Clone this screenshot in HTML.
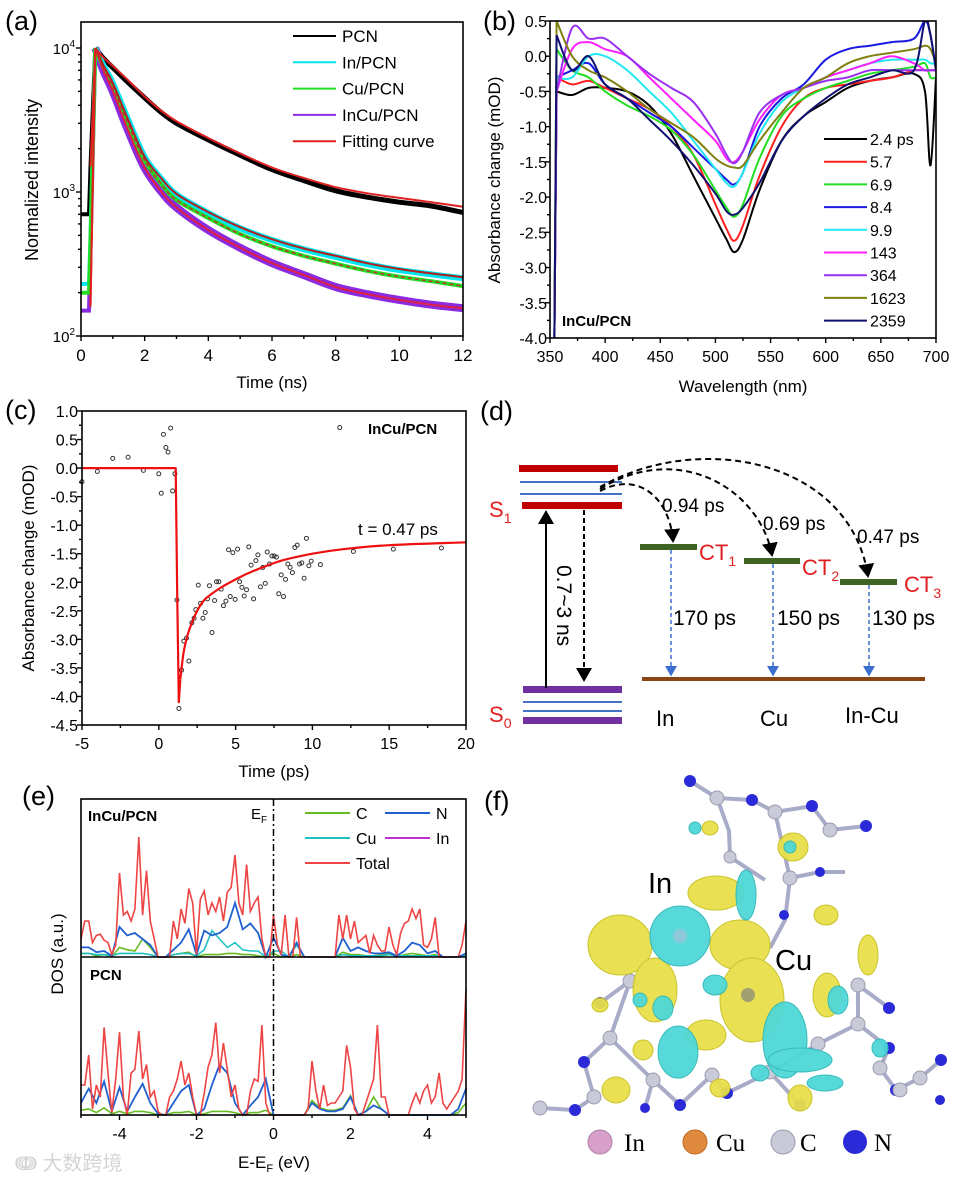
<!DOCTYPE html>
<html><head><meta charset="utf-8"><style>
html,body{margin:0;padding:0;background:#fff;}
svg{display:block;font-family:"Liberation Sans","Noto Sans CJK SC",sans-serif;}
</style></head><body>
<svg id="fig" width="963" height="1181" viewBox="0 0 963 1181" xmlns="http://www.w3.org/2000/svg">
<rect width="963" height="1181" fill="#fff"/>
<text x="5" y="30" font-size="27">(a)</text>
<text x="483" y="30" font-size="27">(b)</text>
<text x="5" y="419" font-size="27">(c)</text>
<text x="480" y="420" font-size="27">(d)</text>
<text x="22" y="805" font-size="27">(e)</text>
<text x="484" y="810" font-size="27">(f)</text>

<g id="pa"></g>
<g id="pb"></g>
<g id="pc"></g>
<g id="pe"></g>

<g id="pd">
  <defs>
    <marker id="ahk" markerWidth="8" markerHeight="8" refX="6" refY="4" orient="auto"><path d="M0,0 L7,4 L0,8 z" fill="#000"/></marker>
    <marker id="ahb" markerWidth="8" markerHeight="8" refX="6" refY="4" orient="auto"><path d="M0,0 L7,4 L0,8 z" fill="#3a6fd0"/></marker>
  </defs>
  <rect x="519" y="465" width="99" height="7" fill="#c00000"/>
  <line x1="520" y1="482" x2="622" y2="482" stroke="#4472c4" stroke-width="2"/>
  <line x1="520" y1="494" x2="622" y2="494" stroke="#4472c4" stroke-width="2"/>
  <rect x="522" y="502" width="100" height="7" fill="#c00000"/>
  <text x="489" y="517" font-size="22" fill="#e02020">S<tspan font-size="14" dy="6">1</tspan></text>
  <rect x="523" y="686" width="99" height="7" fill="#7030a0"/>
  <line x1="523" y1="702" x2="622" y2="702" stroke="#4472c4" stroke-width="2"/>
  <line x1="523" y1="711" x2="622" y2="711" stroke="#4472c4" stroke-width="2"/>
  <rect x="523" y="717" width="99" height="7" fill="#7030a0"/>
  <text x="489" y="722" font-size="22" fill="#e02020">S<tspan font-size="14" dy="6">0</tspan></text>
  <line x1="546" y1="688" x2="546" y2="512" stroke="#000" stroke-width="2" marker-end="url(#ahk)"/>
  <line x1="584" y1="510" x2="584" y2="680" stroke="#000" stroke-width="2" stroke-dasharray="5,3" marker-end="url(#ahk)"/>
  <text x="0" y="0" font-size="21" transform="translate(557,565) rotate(90)">0.7~3 ns</text>
  <rect x="640" y="544" width="57" height="6" fill="#3f6322"/>
  <rect x="744" y="558" width="56" height="6" fill="#3f6322"/>
  <rect x="840" y="579" width="57" height="6" fill="#3f6322"/>
  <text x="699" y="560" font-size="22" fill="#e02020">CT<tspan font-size="14" dy="6">1</tspan></text>
  <text x="802" y="575" font-size="22" fill="#e02020">CT<tspan font-size="14" dy="6">2</tspan></text>
  <text x="904" y="592" font-size="22" fill="#e02020">CT<tspan font-size="14" dy="6">3</tspan></text>
  <rect x="642" y="677" width="283" height="4" fill="#8b4513"/>
  <g stroke="#3a6fd0" stroke-width="1.5" stroke-dasharray="4,3" fill="none">
    <line x1="671" y1="550" x2="671" y2="675" marker-end="url(#ahb)"/>
    <line x1="773" y1="564" x2="773" y2="675" marker-end="url(#ahb)"/>
    <line x1="869" y1="585" x2="869" y2="675" marker-end="url(#ahb)"/>
  </g>
  <g stroke="#000" stroke-width="2" stroke-dasharray="6,4" fill="none">
    <path d="M600,491 C640,470 670,500 673,541" marker-end="url(#ahk)"/>
    <path d="M600,489 C680,440 760,490 772,555" marker-end="url(#ahk)"/>
    <path d="M600,487 C700,430 850,460 868,576" marker-end="url(#ahk)"/>
  </g>
  <text x="662" y="512" font-size="19">0.94 ps</text>
  <text x="763" y="530" font-size="19">0.69 ps</text>
  <text x="857" y="543" font-size="19">0.47 ps</text>
  <text x="673" y="625" font-size="21">170 ps</text>
  <text x="777" y="625" font-size="21">150 ps</text>
  <text x="872" y="625" font-size="21">130 ps</text>
  <text x="656" y="726" font-size="22">In</text>
  <text x="760" y="726" font-size="22">Cu</text>
  <text x="845" y="723" font-size="22">In-Cu</text>
</g>

<g id="pf">
  <g stroke="#a8acc8" stroke-width="4" fill="none">
    <polyline points="690,781 717,798 752,800 775,812 812,806 830,830 866,826"/>
    <polyline points="775,812 790,878 820,872 845,872"/>
    <polyline points="717,798 729,831 730,857 765,880"/>
    <polyline points="790,878 785,920 770,948"/>
    <polyline points="600,1003 630,981 610,1038 584,1062 594,1097 575,1110"/>
    <polyline points="610,1038 653,1080 680,1105 712,1075 727,1093 770,1072 800,1105"/>
    <polyline points="770,1072 818,1044 858,1024 889,1048 880,1068 896,1090 920,1078 941,1060"/>
    <polyline points="858,1024 858,985 889,1008"/>
    <polyline points="540,1108 575,1110"/>
    <polyline points="653,1080 645,1108"/>
  </g>
  <g fill="#2a2ad8">
    <circle cx="690" cy="781" r="6"/><circle cx="752" cy="800" r="6"/><circle cx="812" cy="806" r="6"/><circle cx="866" cy="826" r="6"/>
    <circle cx="820" cy="872" r="5"/><circle cx="784" cy="915" r="5"/><circle cx="600" cy="1003" r="6"/><circle cx="584" cy="1062" r="6"/>
    <circle cx="575" cy="1110" r="6"/><circle cx="680" cy="1105" r="6"/><circle cx="727" cy="1093" r="6"/><circle cx="800" cy="1105" r="6"/>
    <circle cx="889" cy="1008" r="6"/><circle cx="889" cy="1048" r="6"/><circle cx="896" cy="1090" r="6"/><circle cx="941" cy="1060" r="6"/>
    <circle cx="645" cy="1108" r="5"/><circle cx="940" cy="1100" r="5"/>
  </g>
  <g fill="#c8cad8" stroke="#9a9cb0" stroke-width="1">
    <circle cx="717" cy="798" r="7"/><circle cx="775" cy="812" r="7"/><circle cx="830" cy="830" r="7"/><circle cx="790" cy="878" r="7"/>
    <circle cx="730" cy="857" r="6"/><circle cx="630" cy="981" r="7"/><circle cx="610" cy="1038" r="7"/>
    <circle cx="653" cy="1080" r="7"/><circle cx="712" cy="1075" r="7"/><circle cx="770" cy="1072" r="7"/><circle cx="818" cy="1044" r="7"/>
    <circle cx="858" cy="1024" r="7"/><circle cx="858" cy="985" r="7"/><circle cx="880" cy="1068" r="7"/><circle cx="900" cy="1090" r="7"/>
    <circle cx="594" cy="1097" r="7"/><circle cx="540" cy="1108" r="7"/><circle cx="920" cy="1078" r="7"/>
  </g>
  <g fill="#e8e04a" stroke="#c7c020" stroke-width="1" opacity="0.95">
    <ellipse cx="620" cy="945" rx="32" ry="30"/>
    <ellipse cx="655" cy="990" rx="22" ry="32"/>
    <ellipse cx="716" cy="893" rx="28" ry="17"/>
    <ellipse cx="740" cy="945" rx="30" ry="25"/>
    <ellipse cx="752" cy="1000" rx="32" ry="42"/>
    <ellipse cx="706" cy="1035" rx="20" ry="15"/>
    <ellipse cx="793" cy="847" rx="15" ry="14"/>
    <ellipse cx="826" cy="915" rx="12" ry="10"/>
    <ellipse cx="827" cy="995" rx="14" ry="22"/>
    <ellipse cx="868" cy="955" rx="10" ry="20"/>
    <ellipse cx="616" cy="1090" rx="14" ry="13"/>
    <ellipse cx="720" cy="1088" rx="10" ry="9"/>
    <ellipse cx="800" cy="1098" rx="12" ry="13"/>
    <ellipse cx="600" cy="1005" rx="8" ry="7"/>
    <ellipse cx="643" cy="1050" rx="10" ry="10"/>
    <ellipse cx="710" cy="828" rx="8" ry="7"/>
  </g>
  <g fill="#4fd8d8" stroke="#30b8b8" stroke-width="1" opacity="0.95">
    <circle cx="680" cy="936" r="30"/>
    <ellipse cx="785" cy="1040" rx="22" ry="38"/>
    <ellipse cx="678" cy="1052" rx="20" ry="26"/>
    <ellipse cx="800" cy="1060" rx="32" ry="12"/>
    <ellipse cx="746" cy="895" rx="10" ry="25"/>
    <ellipse cx="715" cy="985" rx="12" ry="10"/>
    <ellipse cx="663" cy="1008" rx="10" ry="12"/>
    <ellipse cx="640" cy="1000" rx="7" ry="7"/>
    <ellipse cx="760" cy="1073" rx="9" ry="8"/>
    <ellipse cx="825" cy="1083" rx="18" ry="8"/>
    <ellipse cx="838" cy="1000" rx="10" ry="14"/>
    <ellipse cx="880" cy="1048" rx="8" ry="9"/>
    <ellipse cx="790" cy="847" rx="6" ry="6"/>
    <ellipse cx="695" cy="828" rx="6" ry="6"/>
  </g>
  <circle cx="680" cy="936" r="7" fill="#8fc8d8"/>
  <circle cx="748" cy="995" r="7" fill="#a0a070"/>
  <text x="648" y="893" font-size="29">In</text>
  <text x="775" y="970" font-size="29">Cu</text>
  <g font-family="Liberation Serif, serif" font-size="25">
    <circle cx="600" cy="1142" r="12" fill="#d8a0c8" stroke="#b080a8"/><text x="624" y="1151">In</text>
    <circle cx="695" cy="1142" r="12" fill="#e08a40" stroke="#c06a20"/><text x="716" y="1151">Cu</text>
    <circle cx="783" cy="1142" r="12" fill="#c8cad8" stroke="#9a9cb0"/><text x="800" y="1151">C</text>
    <circle cx="855" cy="1142" r="12" fill="#2a2ad8"/><text x="874" y="1151">N</text>
  </g>
</g>

<text x="15" y="1170" font-size="20" fill="#d4d4d4">ↈ 大数跨境</text>
</svg>
<script>
// ---------- panel (a) data ----------
const tA = [0,0.25,0.3,0.45,0.7,1,1.5,2,2.5,3,4,5,6,7,8,9,10,11,12];
const pcnData = [700,700,1500,10000,8500,7300,5700,4500,3600,3000,2300,1800,1430,1200,1020,920,850,800,720];
const pcnFit = [700,700,1500,10000,8600,7500,5900,4600,3700,3100,2370,1850,1480,1250,1080,980,910,850,790];
const inData = [230,230,500,10000,7600,5700,3100,1750,1250,960,715,560,464,400,354,315,287,268,252];
const cuData = [200,200,450,10000,7300,5400,2900,1650,1150,880,660,510,420,360,318,283,258,240,222];
const incuData = [150,150,400,10000,7000,5000,2600,1470,1020,780,545,410,321,265,219,195,178,165,156];
const inFit = [150,150,160,10000,7600,5700,3100,1750,1260,970,725,570,470,405,360,320,292,272,256];
const incuFit = [150,150,160,10000,7000,5000,2600,1470,1020,780,545,410,321,265,219,195,178,165,156];
const aXTicks = [0,2,4,6,8,10,12];
const aYTicks = [2,3,4];
const aLegend = ["PCN","In/PCN","Cu/PCN","InCu/PCN","Fitting curve"];

// ---------- panel (b) data ----------
const wl = [354,356,370,385,400,420,440,460,480,500,510,517,525,540,560,580,600,620,640,660,680,690,695,700];
const sB1 = [-4,-0.5,-0.55,-0.45,-0.45,-0.5,-0.7,-1.1,-1.7,-2.3,-2.6,-2.78,-2.6,-1.9,-1.2,-0.85,-0.65,-0.45,-0.35,-0.3,-0.25,-0.5,-1.55,-0.3];
const sB2 = [-4,-0.3,-0.4,-0.35,-0.45,-0.6,-0.75,-1.0,-1.4,-2.1,-2.45,-2.62,-2.4,-1.7,-1.0,-0.6,-0.45,-0.4,-0.35,-0.3,-0.2,-0.2,-0.2,-0.2];
const sB3 = [-4,0.1,-0.2,-0.3,-0.5,-0.7,-0.85,-1.05,-1.4,-1.9,-2.15,-2.28,-2.1,-1.45,-0.85,-0.6,-0.45,-0.35,-0.25,-0.2,-0.15,-0.1,-0.3,-0.3];
const sB4 = [-4,-0.3,-0.2,-0.1,-0.4,-0.6,-0.8,-1.0,-1.3,-1.6,-1.75,-1.82,-1.65,-1.0,-0.6,-0.4,-0.05,0.1,0.15,0.2,0.25,0.5,0.3,-0.2];
const sB5 = [-4,-0.3,-0.3,0.0,0.0,-0.2,-0.5,-0.8,-1.2,-1.6,-1.8,-1.85,-1.65,-1.1,-0.65,-0.45,-0.3,-0.2,-0.1,-0.05,-0.05,-0.05,-0.1,-0.1];
const sB6 = [-4,-0.5,0.1,0.2,0.1,0.0,-0.3,-0.6,-0.9,-1.2,-1.45,-1.5,-1.35,-0.9,-0.55,-0.45,-0.3,-0.2,-0.1,0.0,-0.1,-0.2,-0.2,-0.2];
const sB7 = [-4,-0.5,0.4,0.25,0.25,0.0,-0.25,-0.45,-0.65,-1.1,-1.4,-1.52,-1.35,-0.8,-0.55,-0.45,-0.35,-0.3,-0.2,-0.2,-0.2,-0.2,-0.2,-0.2];
const sB8 = [-4,0.5,0.0,-0.2,-0.3,-0.5,-0.75,-0.95,-1.15,-1.45,-1.55,-1.58,-1.55,-1.2,-0.8,-0.45,-0.3,-0.1,0.0,0.05,0.1,0.15,0.1,-0.1];
const sB9 = [-4,0.3,-0.2,0.0,-0.4,-0.6,-0.9,-1.2,-1.55,-1.95,-2.2,-2.25,-2.15,-1.8,-1.2,-0.85,-0.6,-0.4,-0.3,-0.2,-0.2,0.5,0.3,-0.2];
const bLabels = ["2.4 ps","5.7","6.9","8.4","9.9","143","364","1623","2359"];
const bXTicks = [350,400,450,500,550,600,650,700];
const bYTicks = [0.5,0,-0.5,-1,-1.5,-2,-2.5,-3,-3.5,-4];

// ---------- panel (c) data ----------
const cFitT = [-5,1.1,1.2,1.3,1.4,1.6,1.8,2,2.5,3,4,5,6,8,10,12,15,20];
const cFitV = [0,0,-2.2,-4.1,-3.7,-3.25,-3.0,-2.82,-2.5,-2.3,-2.1,-1.95,-1.82,-1.62,-1.5,-1.42,-1.35,-1.3];
const cPtT = [-5,-4,-3,-2,-1,0,0.16,0.3,0.46,0.6,0.77,0.9,1.05,1.18,1.31,1.48,1.63,1.8,1.96,2.15,2.3,2.41,2.57,2.72,2.87,3.02,3.17,3.3,3.46,3.63,3.76,3.91,4.06,4.21,4.37,4.54,4.65,4.82,4.97,5.13,5.26,5.41,5.56,5.71,5.86,6.01,6.17,6.32,6.45,6.62,6.77,6.93,7.06,7.21,7.36,7.51,7.66,7.81,7.97,8.12,8.25,8.4,8.55,8.7,8.86,9.01,9.16,9.31,9.46,9.61,9.77,9.92,10.52,11.78,12.67,15.27,18.4];
const cPtV = [-0.24,-0.06,0.17,0.19,-0.04,-0.1,-0.44,0.59,0.36,0.28,0.7,-0.4,-0.1,-2.31,-4.21,-3.54,-3.03,-2.98,-3.38,-2.71,-2.63,-2.48,-2.05,-2.37,-2.63,-2.53,-2.29,-2.06,-2.88,-2.32,-1.99,-1.99,-2.12,-2.41,-2.33,-1.43,-2.25,-1.48,-2.3,-1.42,-1.99,-2.09,-2.24,-2.13,-1.38,-1.7,-2.29,-1.62,-1.52,-2.08,-1.74,-2.02,-1.47,-1.68,-1.54,-1.54,-1.56,-2.2,-1.87,-2.25,-1.95,-1.68,-1.74,-1.83,-1.39,-1.35,-1.68,-1.66,-1.93,-1.23,-1.71,-1.63,-1.69,0.71,-1.46,-1.42,-1.4];
const cXTicks = [-5,0,5,10,15,20];
const cYTicks = [1,0.5,0,-0.5,-1,-1.5,-2,-2.5,-3,-3.5,-4,-4.5];

// ---------- panel (e) data ----------
const eTot1 = [1.5,3.0,3.0,1.2,1.8,1.9,1.4,1.2,0.2,1.0,7.0,3.5,3.8,3.0,4.0,10.0,3.5,7.2,3.0,1.5,0,0,0,0,3.0,1.5,4.0,2.8,5.7,4.5,0.2,4.8,5.5,3.5,4.5,3.8,5.0,3.0,5.4,5.8,8.5,4.5,3.5,7.7,3.8,4.5,5.0,1.5,0,0,3.5,1.0,0.2,3.5,0,0,3.3,0,0,0,0,0,0,0,0,0,0,3.5,1.5,3.5,1.5,3.0,1.2,1.5,1.8,0.3,1.8,1.0,0.5,0.5,2.5,1.0,0.2,2.0,2.8,3.0,4.0,3.2,4.0,1.0,0.8,1.5,3.3,0,0,0,0,0,0,1.0,3.0];
const eN1 = [0.8,0.8,0.4,0.5,0.1,2.5,1.8,2.0,1.5,1.0,0,0,0.6,1.2,2.3,0.2,2.2,1.8,2.0,2.5,4.5,2.3,2.8,2.0,0,1.6,0.2,0,1.2,0,0,0,0,0,1.6,0.5,0.8,0.5,0.3,0.3,0.4,0.1,0.5,1.2,1.0,0.3,0.5,0,0,0,0.3];
const eCu1 = [0.3,0.3,0.2,0.2,0.1,0.3,0.3,0.3,0.3,0.2,0,0,0.2,0.3,0.3,0.1,0.6,2.2,1.5,0.8,1.2,0.6,0.5,0.5,0,0.5,0.5,0,1.0,0,0,0,0,0,0.2,0.1,0.1,0.1,0.1,0.1,0.2,0.1,0.1,0.1,0.1,0.1,0.1,0,0,0,0.1];
const eC1 = [0.3,0.3,0.1,0.2,0,0.8,0.6,0.5,1.5,0.8,0,0,0.2,0.3,0.4,0,0.2,0.2,0.2,0.3,0.3,0.2,0.2,0.1,0,0.3,0,0,0.2,0,0,0,0,0,0.4,0.2,0.2,0.1,0.1,0.2,0.3,0,0.2,0.3,0.2,0.1,0.2,0,0,0,0.1];
const eTot2 = [2.5,2.5,5.0,0.5,2.5,1.5,7.3,3.5,0.2,3.0,6.9,1.5,0,3.5,3.8,7.0,3.0,4.2,1.5,2.0,0.3,0,0,1.5,2.0,3.0,4.5,2.5,3.5,1.5,0,0,1.8,4.0,5.0,7.7,3.5,6.0,3.8,1.5,2.5,0.5,0,0,2.0,3.0,2.8,7.5,1.0,0,0,0,0,0,0,0,0,0,0,0.5,4.5,2.0,0.5,2.5,0.8,1.0,1.0,1.5,2.0,5.8,4.0,0.5,0,0,1.0,2.0,3.0,7.5,1.5,1.5,0,0,0,0,0,0,1.0,1.8,1.0,2.0,2.5,1.0,1.5,3.5,1.0,0.5,1.0,1.5,2.0,3.0,10.5];
const eN2 = [1.0,2.2,1.0,2.8,0.3,2.3,0.3,1.5,2.6,1.0,0.1,0,1.0,2.0,2.5,0,0.5,2.5,4.2,3.5,1.0,0,0.8,1.5,3.0,0,0,0,0,0,1.0,0.5,0.3,0.3,0.5,1.5,0,0.3,0.8,0.5,0,0,0,0,0,0,0,0,0,0.5,2.2];
const eC2 = [0.4,0.5,0.2,0.6,0.1,0.3,0.1,0.3,0.3,0.2,0,0,0.2,0.2,0.3,0,0.1,0.3,0.3,0.3,0.2,0,0.2,0.2,0.4,0,0,0,0,0,1.2,0.6,0.4,0.4,0.6,1.6,0,0.3,1.5,0.5,0,0,0,0,0,0,0,0,0,0.2,1.0];
const eXTicks = [-4,-2,0,2,4];

const NS = "http://www.w3.org/2000/svg";
function el(tag, parent){ const e=document.createElementNS(NS,tag); parent.appendChild(e); return e; }
function setA(e,o){ for(const k in o) e.setAttribute(k,o[k]); return e; }
function ptsStr(xs,ys,fx,fy){ return xs.map((x,i)=>fx(x).toFixed(1)+","+fy(ys[i]).toFixed(1)).join(" "); }
function smooth(xs,ys,fx,fy){
  const P=xs.map((x,i)=>[fx(x),fy(ys[i])]);
  let d="M"+P[0][0].toFixed(1)+","+P[0][1].toFixed(1);
  for(let i=0; i < P.length-1; i++){
    const p0=P[i-1]||P[i], p1=P[i], p2=P[i+1], p3=P[i+2]||P[i+1];
    const c1=[p1[0]+(p2[0]-p0[0])/6, p1[1]+(p2[1]-p0[1])/6];
    const c2=[p2[0]-(p3[0]-p1[0])/6, p2[1]-(p3[1]-p1[1])/6];
    d+=" C"+c1[0].toFixed(1)+","+c1[1].toFixed(1)+" "+c2[0].toFixed(1)+","+c2[1].toFixed(1)+" "+p2[0].toFixed(1)+","+p2[1].toFixed(1);
  }
  return d;
}
function txt(parent,x,y,s,size,anchor,extra){ const t=el("text",parent); setA(t,{x:x,y:y,"font-size":size,"text-anchor":anchor||"start"}); if(extra) setA(t,extra); t.textContent=s; return t; }
function frame(g,x0,y0,x1,y1){ const r=el("rect",g); setA(r,{x:x0,y:y0,width:x1-x0,height:y1-y0,fill:"none",stroke:"#000","stroke-width":1.6});
  
   }
function tick(g,x1,y1,x2,y2){ const l=el("line",g); setA(l,{x1:x1,y1:y1,x2:x2,y2:y2,stroke:"#000","stroke-width":1.4}); }

// ===== Panel A =====
(function(){
  const g=document.getElementById("pa");
  const X0=81,X1=463,Y0=22,Y1=336;
  const fx=t=>X0+t*(X1-X0)/12;
  const fy=v=>Y1-(Math.log10(v)-2)*144;
  const series=[[pcnData,"#000",5,"pcn-data"],[incuData,"#8a2be2",8,"incu-pcn-data"],[inData,"#00e5ee",6,"in-pcn-data"],[cuData,"#22dd22",4,"cu-pcn-data"]];
  series.forEach(s=>{ const p=el("path",g); setA(p,{d:smooth(tA.slice(3),s[0].slice(3),fx,fy),fill:"none",stroke:s[1],"stroke-width":s[2],"stroke-linejoin":"round"});
    
    
    const q=el("polyline",g); setA(q,{points:ptsStr(tA.slice(0,4),s[0].slice(0,4),fx,fy),fill:"none",stroke:s[1],"stroke-width":Math.min(s[2],4)});
    
     });
  const fits=[[pcnFit,"#e02020","pcn-fit"],[inFit,"#b02020","in-pcn-fit"],[incuFit,"#e02040","incu-pcn-fit"]];
  fits.forEach(s=>{ const p=el("path",g); setA(p,{d:smooth(tA.slice(3),s[0].slice(3),fx,fy),fill:"none",stroke:s[1],"stroke-width":2});
    
    
    const q=el("polyline",g); setA(q,{points:ptsStr(tA.slice(2,4),s[0].slice(2,4),fx,fy),fill:"none",stroke:"#e02020","stroke-width":2});
    
     });
  const cf=el("path",g); setA(cf,{d:smooth(tA.slice(3),cuData.slice(3),fx,fy),fill:"none",stroke:"#c03030","stroke-width":1.5,"stroke-dasharray":"4,3"});
  
  
  frame(g,X0,Y0,X1,Y1);
  for(let t=0; t <= 12; t++){ tick(g,fx(t),Y1,fx(t),Y1+(t%2?3:5)); }
  aXTicks.forEach(t=>{ const e=txt(g,fx(t),361,String(t),17,"middle");   });
  aYTicks.forEach(v=>{ const y=Y1-(v-2)*144; tick(g,X0-5,y,X0,y);
    const e=txt(g,X0-6,y+6,"",15,"end"); e.appendChild(document.createTextNode("10")); const s2=el("tspan",e); setA(s2,{"font-size":10,dy:-7}); s2.textContent=String(v);
      });
  for(let d=2; d < 4; d++) for(let m=2; m < 10; m++){ const y=Y1-(d-2+Math.log10(m))*144; tick(g,X0-3,y,X0,y); }
  const xt=txt(g,272,388,"Time (ns)",17,"middle");  
  const yt=txt(g,0,0,"Normalized intensity",18,"middle",{transform:"translate(38,180) rotate(-90)"});  
  const lc=["#000","#00e5ee","#22dd22","#8a2be2","#e02020"];
  aLegend.forEach((s,i)=>{ const y=36+i*26.3; const l=el("line",g); setA(l,{x1:293,y1:y,x2:336,y2:y,stroke:lc[i],"stroke-width":2});
     
    const e=txt(g,342,y+6,s,17,"start");   });
})();

// ===== Panel B =====
(function(){
  const g=document.getElementById("pb");
  const X0=550,X1=936,Y0=21,Y1=338;
  const fx=w=>X0+(w-350)*(X1-X0)/350;
  const fy=v=>Y0+(0.5-v)*(Y1-Y0)/4.5;
  const cols=["#000","#ff2020","#22dd22","#1a1ae0","#22e8f0","#ff20ff","#9a30f0","#808010","#101070"];
  const ser=[sB1,sB2,sB3,sB4,sB5,sB6,sB7,sB8,sB9];
  const cp=el("clipPath",g); cp.setAttribute("id","clipb"); const cr=el("rect",cp); setA(cr,{x:X0,y:Y0,width:X1-X0,height:Y1-Y0});
  ser.forEach((s,i)=>{
    const q=el("polyline",g); setA(q,{points:ptsStr(wl.slice(0,2),s.slice(0,2),fx,fy),fill:"none",stroke:cols[i],"stroke-width":2,"clip-path":"url(#clipb)"});
     
    const p=el("path",g); setA(p,{d:smooth(wl.slice(1),s.slice(1),fx,fy),fill:"none",stroke:cols[i],"stroke-width":2,"clip-path":"url(#clipb)","stroke-linejoin":"round"});
      });
  frame(g,X0,Y0,X1,Y1);
  for(let w=350; w <= 700; w+=25){ tick(g,fx(w),Y1,fx(w),Y1+((w%50)?3:5)); }
  bXTicks.forEach(w=>{ const e=txt(g,fx(w),362,String(w),16,"middle");   });
  for(let v=0.5; v >= -4.01; v-=0.25){ tick(g,X0-((Math.abs(v*2-Math.round(v*2)) < 0.01)?5:3),fy(v),X0,fy(v)); }
  bYTicks.forEach(v=>{ const e=txt(g,X0-3,fy(v)+6,v.toFixed(1),16,"end");   });
  const xt=txt(g,743,392,"Wavelength (nm)",17,"middle");  
  const yt=txt(g,0,0,"Absorbance change (mOD)",17,"middle",{transform:"translate(500,180) rotate(-90)"});  
  const st=txt(g,562,326,"InCu/PCN",15,"start",{"font-weight":"bold"});  
  bLabels.forEach((s,i)=>{ const y=139+i*22.7; const l=el("line",g); setA(l,{x1:824,y1:y,x2:867,y2:y,stroke:cols[i],"stroke-width":2});
     
    const e=txt(g,870,y+6,s,16,"start");   });
})();

// ===== Panel C =====
(function(){
  const g=document.getElementById("pc");
  const X0=82,X1=466,Y0=411,Y1=725;
  const fx=t=>X0+(t+5)*(X1-X0)/25;
  const fy=v=>Y0+(1-v)*(Y1-Y0)/5.5;
  cPtT.forEach((t,i)=>{ const c=el("circle",g); setA(c,{cx:fx(t),cy:fy(cPtV[i]),r:2,fill:"none",stroke:"#333","stroke-width":1});
      });
  const p=el("polyline",g); setA(p,{points:ptsStr(cFitT.slice(0,5),cFitV.slice(0,5),fx,fy),fill:"none",stroke:"#ee1010","stroke-width":2.2,"stroke-linejoin":"round"});
   
  const p2=el("path",g); setA(p2,{d:smooth(cFitT.slice(4),cFitV.slice(4),fx,fy),fill:"none",stroke:"#ee1010","stroke-width":2.2});
   
  frame(g,X0,Y0,X1,Y1);
  for(let t=-5; t <= 20; t+=2.5){ tick(g,fx(t),Y1,fx(t),Y1+((t%5)?3:5)); }
  cXTicks.forEach(t=>{ const e=txt(g,fx(t),749,String(t),16,"middle");   });
  for(let v=1; v >= -4.51; v-=0.25){ tick(g,X0-((Math.abs(v*2-Math.round(v*2)) < 0.01)?5:3),fy(v),X0,fy(v)); }
  cYTicks.forEach(v=>{ const e=txt(g,X0-4,fy(v)+6,v.toFixed(1),16,"end");   });
  const xt=txt(g,274,777,"Time (ps)",17,"middle");  
  const yt=txt(g,0,0,"Absorbance change (mOD)",17,"middle",{transform:"translate(34,568) rotate(-90)"});  
  const st=txt(g,368,434,"InCu/PCN",15,"start",{"font-weight":"bold"});  
  const an=txt(g,358,535,"t = 0.47 ps",17,"start");  
})();

// ===== Panel E =====
(function(){
  const g=document.getElementById("pe");
  const X0=81,X1=466,Y0=799,YM=957,Y1=1115,S=12;
  const fx=e=>X0+(e+5)*(X1-X0)/10;
  const grid1=eTot1.map((_,i)=>-5+i*0.1);
  const grid2=eN1.map((_,i)=>-5+i*0.2);
  function line(xs,ys,base,col,w,name){ const p=el("polyline",g); setA(p,{points:ptsStr(xs,ys,fx,v=>base-v*S),fill:"none",stroke:col,"stroke-width":w});
      }
  line(grid2,eC1,YM,"#66bb22",1.6,"upper-c-dos");
  line(grid2,eCu1,YM,"#20c0c0",1.6,"upper-cu-dos");
  line(grid2,eN1,YM,"#2060d0",1.8,"upper-n-dos");
  line(grid1,eTot1,YM,"#ee4444",1.6,"upper-total-dos");
  line(grid2,eC2,Y1,"#66bb22",1.6,"lower-c-dos");
  line(grid2,eN2,Y1,"#2060d0",1.8,"lower-n-dos");
  line(grid1,eTot2,Y1,"#ee4444",1.6,"lower-total-dos");
  const mid=el("line",g); setA(mid,{x1:X0,y1:YM,x2:X1,y2:YM,stroke:"#000","stroke-width":1.4});
   
  const ef=el("line",g); setA(ef,{x1:fx(0),y1:Y0,x2:fx(0),y2:Y1,stroke:"#000","stroke-width":1.5,"stroke-dasharray":"7,3,2,3"});
   
  frame(g,X0,Y0,X1,Y1);
  for(let e=-5; e <= 5; e++){ tick(g,fx(e),Y1,fx(e),Y1+((e%2)?3:5)); }
  eXTicks.forEach(e=>{ const t=txt(g,fx(e),1139,String(e),16,"middle");   });
  const xt=txt(g,274,1168,"",17,"middle"); xt.appendChild(document.createTextNode("E-E")); const sb=el("tspan",xt); setA(sb,{"font-size":11,dy:4}); sb.textContent="F"; const rs=el("tspan",xt); setA(rs,{dy:-4}); rs.textContent=" (eV)";
   
  const yt=txt(g,0,0,"DOS (a.u.)",17,"middle",{transform:"translate(63,954) rotate(-90)"});  
  const l1=txt(g,88,821,"InCu/PCN",15,"start",{"font-weight":"bold"});  
  const l2=txt(g,90,980,"PCN",15,"start",{"font-weight":"bold"});  
  const efl=txt(g,251,819,"E",15,"start"); const es=el("tspan",efl); setA(es,{"font-size":10,dy:4}); es.textContent="F";
   
  const leg=[[305,813,"#66bb22","C"],[385,813,"#2060d0","N"],[305,838,"#20c0c0","Cu"],[385,838,"#c030d0","In"],[305,863,"#ee4444","Total"]];
  leg.forEach(a=>{ const l=el("line",g); setA(l,{x1:a[0],y1:a[1],x2:a[0]+45,y2:a[1],stroke:a[2],"stroke-width":2});
     
    const t=txt(g,a[0]+51,a[1]+6,a[3],16,"start");   });
})();
</script>
</body></html>
